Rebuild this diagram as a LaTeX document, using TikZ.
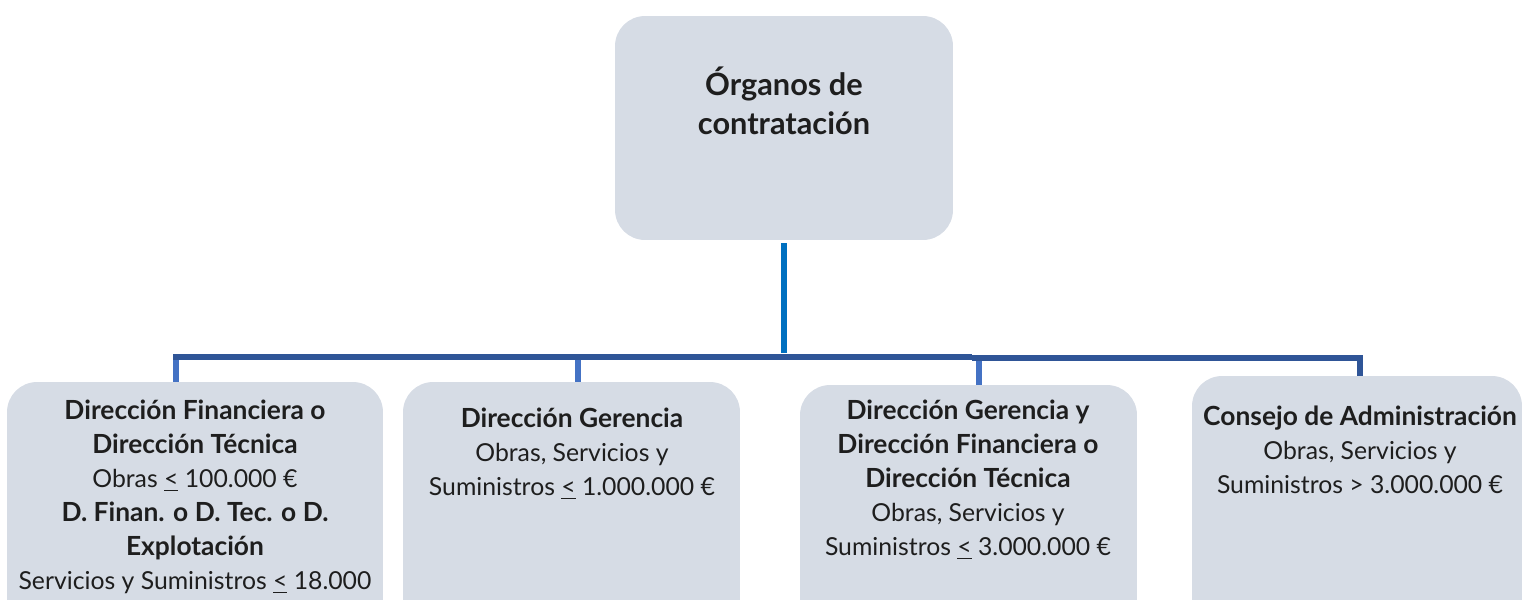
\documentclass[tikz,border=0pt]{standalone}
\usepackage{fontspec}
\setmainfont{Lato}
\usetikzlibrary{calc}
\definecolor{boxfill}{HTML}{D6DCE5}
\definecolor{toplink}{HTML}{0070C0}
\definecolor{buslink}{HTML}{2F5597}
\definecolor{droplink}{HTML}{4472C4}
\definecolor{txt}{HTML}{1E1E1E}
\newcommand{\hd}[1]{{\fontsize{15}{19.3}\selectfont\bfseries #1}}

\begin{document}
\begin{tikzpicture}[x=0.02cm,y=-0.02cm,
	box/.style={fill=boxfill,draw=none,rounded corners=0.6cm,inner sep=0pt},
	lbl/.style={align=center,anchor=north,inner sep=0pt,text=txt,
		font=\fontsize{14.1}{19.3}\selectfont},
	link/.style={line width=0.12cm}]
	\useasboundingbox (0,0) rectangle (1523,599);
	\clip (0,0) rectangle (1523,599);
	\node[box,minimum width=6.76cm,minimum height=4.48cm] (org) at (784,128) {};
	\node[box,minimum width=7.52cm,minimum height=5.2cm] (b1) at (195,512) {};
	\node[box,minimum width=6.74cm,minimum height=5.2cm] (b2) at (571.5,512) {};
	\node[box,minimum width=6.74cm,minimum height=5.2cm] (b3) at (968.5,515) {};
	\node[box,minimum width=6.6cm,minimum height=5.2cm] (b4) at (1357,506) {};
	\node[lbl,font=\bfseries\fontsize{17.5}{22.1}\selectfont] (t0) at (784,67)
	{Órganos de\\contratación};
	\node[lbl] (t1) at (195,400)
	{\hd{Dirección Financiera o}\\\hd{Dirección Técnica}\\
		Obras \underline{<} 100.000 €\\\hd{D. Finan. o D. Tec. o D.}\\
		\hd{Explotación}\\Servicios y Suministros \underline{<} 18.000};
	\node[lbl] (t2) at (572,408)
	{\hd{Dirección Gerencia}\\Obras, Servicios y\\
		Suministros \underline{<} 1.000.000 €};
	\node[lbl] (t3) at (968,400)
	{\hd{Dirección Gerencia y}\\\hd{Dirección Financiera o}\\
		\hd{Dirección Técnica}\\Obras, Servicios y\\
		Suministros \underline{<} 3.000.000 €};
	\node[lbl] (t4) at (1360,406)
	{\hd{Consejo de Administración}\\Obras, Servicios y\\
		Suministros > 3.000.000 €};
	\coordinate (bus) at (785,357);
	\coordinate (d1) at (176,357);
	\coordinate (d2) at (578,357);
	\coordinate (d3) at (978.5,358);
	\coordinate (d4) at (1359.5,358);
	\draw[link,toplink] ($(org.south)+(0,3)$) -- ($(org.south |- bus)+(0,-4)$);
	\foreach \D/\B in {d1/b1,d2/b2,d3/b3}
	{\draw[link,droplink] (\D) -- (\D |- \B.north);}
	\draw[link,buslink] ([xshift=-0.06cm]d1) -- (d2) -- ([xshift=-0.13cm]d3 |- d1);
	\draw[link,buslink,line join=miter] ([xshift=-0.13cm]d3) -- (d4) -- (d4 |- b4.north);
\end{tikzpicture}
\end{document}
